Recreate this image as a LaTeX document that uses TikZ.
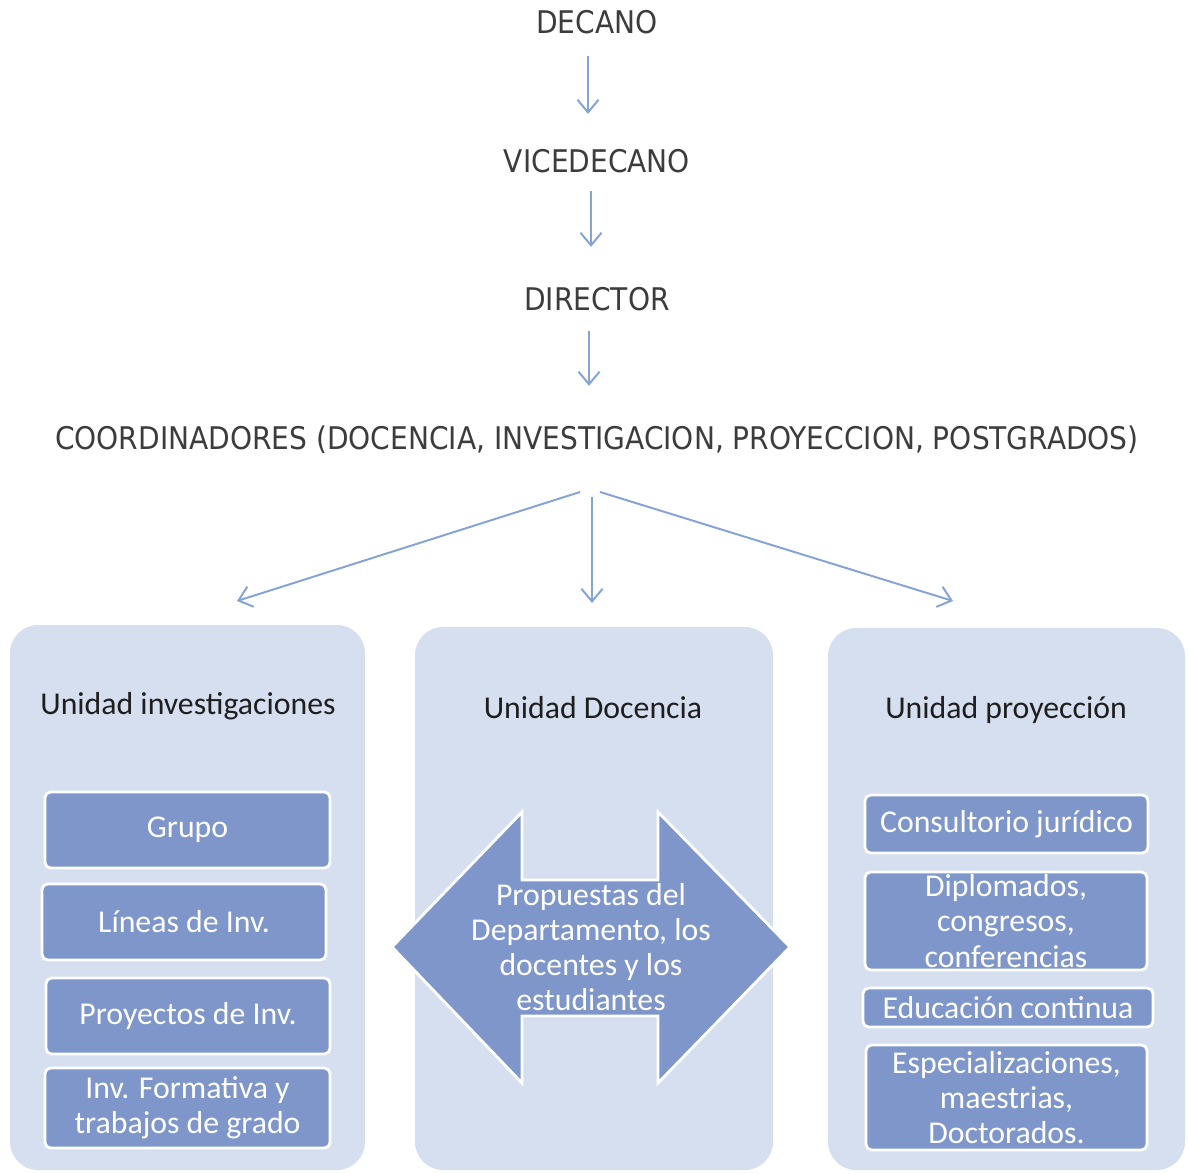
\documentclass[tikz,border=0pt]{standalone}
\usepackage{fontspec}
\setmainfont{Carlito}
\newfontfamily\topfont{DejaVu Sans Condensed}
\usetikzlibrary{arrows.meta}
\definecolor{lightbox}{RGB}{214,223,240}
\definecolor{midbox}{RGB}{126,150,201}
\definecolor{arrowc}{RGB}{132,163,214}
\definecolor{toptxt}{RGB}{60,60,60}
\definecolor{titletxt}{RGB}{30,30,30}
\newcommand\pxu{0.025cm}
\begin{document}
\begin{tikzpicture}[x=0.025cm,y=-0.025cm,
  toplabel/.style={font=\topfont\fontsize{22.2}{26}\selectfont, text=toptxt, inner sep=0},
  arr/.style={draw=arrowc, line width=1.4pt, -{Straight Barb[length=9pt,width=15pt,line width=1.4pt]}},
  container/.style={fill=lightbox, rounded corners=20pt, inner sep=0},
  item/.style={fill=midbox, draw=white, line width=2pt, rounded corners=4pt, text=white, align=center, inner sep=0,
    font=\fontsize{22.6}{25}\selectfont},
  unittitle/.style={font=\fontsize{22.6}{25}\selectfont, text=titletxt, inner sep=0},
]
\useasboundingbox (0,0) rectangle (1188,1174);

% top hierarchy
\node[toplabel] (dec) at (597,22) {DECANO};
\node[toplabel] (vice) at (597,161) {VICEDECANO};
\node[toplabel] (dir) at (597,299) {DIRECTOR};
\node[toplabel] (coord) at (597,440) {COORDINADORES (DOCENCIA, INVESTIGACION, PROYECCION, POSTGRADOS)};

\draw[arr] ([xshift=-9*\pxu, yshift=-22*\pxu]dec.south) -- ([xshift=-9*\pxu, yshift=35*\pxu]vice.north);
\draw[arr] ([xshift=-6*\pxu, yshift=-18*\pxu]vice.south) -- ([xshift=-6*\pxu, yshift=40*\pxu]dir.north);
\draw[arr] ([xshift=-8*\pxu, yshift=-20*\pxu]dir.south) -- ([xshift=-8*\pxu, yshift=40*\pxu]coord.north);

% containers
\node[container, minimum width=355*\pxu, minimum height=545*\pxu] (inv) at (187.5,897.5) {};
\node[container, minimum width=358*\pxu, minimum height=543*\pxu] (doc) at (594,898.5) {};
\node[container, minimum width=357*\pxu, minimum height=542*\pxu] (pro) at (1006.5,899) {};

% fan arrows
\coordinate (fl) at (580,492);
\coordinate (fm) at (592,497);
\coordinate (fr) at (600,492);
\coordinate (tl) at (237,601);
\coordinate (tm) at (592,603);
\coordinate (tr) at (953,601);
\draw[arr] (fl) -- (tl);
\draw[arr] (fm) -- (tm);
\draw[arr] (fr) -- (tr);

% titles
\node[unittitle] (tinv) at (188,706) {Unidad investigaciones};
\node[unittitle] (tdoc) at (593,708) {Unidad Docencia};
\node[unittitle] (tpro) at (1006,710) {Unidad proyección};

% left items
\node[item, minimum width=285*\pxu, minimum height=76*\pxu] (i1) at (187.5,830) {Grupo};
\node[item, minimum width=284*\pxu, minimum height=76*\pxu] (i2) at (184,922) {Líneas de Inv.};
\node[item, minimum width=284*\pxu, minimum height=76*\pxu] (i3) at (188,1016) {Proyectos de Inv.};
\node[item, minimum width=285*\pxu, minimum height=80*\pxu] (i4) at (187.5,1108) {Inv. Formativa y\\trabajos de grado};

% right items
\node[item, minimum width=283*\pxu, minimum height=58*\pxu] (p1) at (1006.5,824) {Consultorio jurídico};
\node[item, minimum width=282*\pxu, minimum height=98*\pxu] (p2) at (1006,921) {Diplomados,\\congresos,\\conferencias};
\node[item, minimum width=290*\pxu, minimum height=39*\pxu] (p3) at (1008,1007.5) {Educación continua};
\node[item, minimum width=281*\pxu, minimum height=105*\pxu] (p4) at (1006.5,1097.5) {Especializaciones,\\maestrias,\\Doctorados.};

% double arrow
\draw[fill=midbox, draw=white, line width=2pt, line join=miter]
  (392,947) -- (522,812) -- (522,880) -- (658,880) -- (658,812) -- (790,947)
  -- (658,1083) -- (658,1016) -- (522,1016) -- (522,1083) -- cycle;
\node[text=white, align=center, inner sep=0, font=\fontsize{22.6}{25}\selectfont] (dtext) at (591,947)
  {Propuestas del\\Departamento, los\\docentes y los\\estudiantes};
\end{tikzpicture}
\end{document}
